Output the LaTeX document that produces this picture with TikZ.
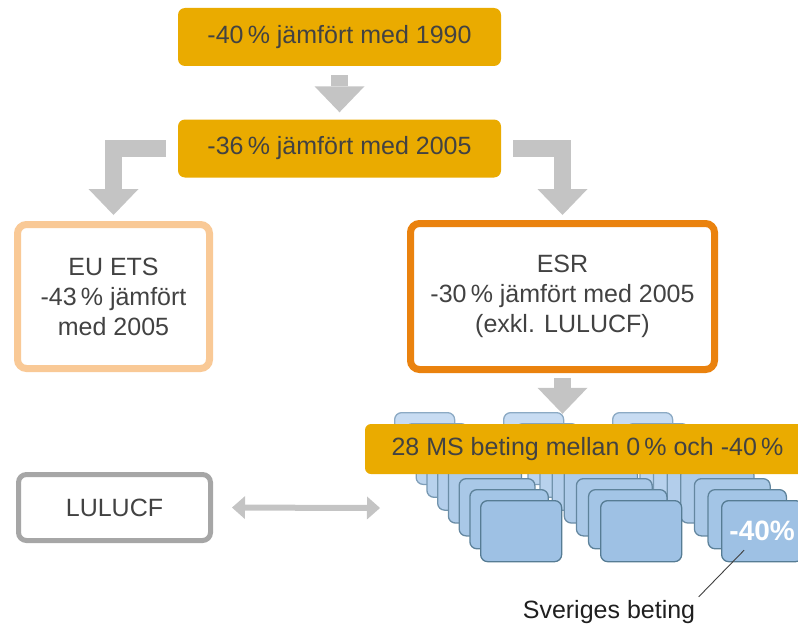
\documentclass[tikz,border=0pt]{standalone}
\usepackage{fontspec}
\setmainfont{Liberation Sans}
\usetikzlibrary{arrows.meta}
\definecolor{gold}{RGB}{234,171,0}
\definecolor{txtgray}{RGB}{66,66,66}
\definecolor{arrowgray}{RGB}{196,196,196}
\definecolor{etsorange}{RGB}{249,201,150}
\definecolor{esrorange}{RGB}{234,130,14}
\definecolor{lugray}{RGB}{166,166,166}
\definecolor{msback}{RGB}{200,220,242}
\definecolor{msfront}{RGB}{158,193,228}
\definecolor{msbackline}{RGB}{140,170,196}
\definecolor{msfrontline}{RGB}{86,124,148}

\begin{document}
\begin{tikzpicture}[x=1pt,y=-1pt,
    font=\fontsize{25}{30}\selectfont,
    target/.style={fill=gold,text=txtgray,rounded corners=7pt,minimum width=323pt,minimum height=58pt},
    sector/.style={draw,fill=white,line width=7pt,rounded corners=9pt,text=txtgray,align=center},
    msbox/.style={line width=1.3pt,rounded corners=7pt,anchor=north west,inner sep=0pt},
    bigarrow/.style={draw=arrowgray,line width=17pt,-{Triangle[width=50pt,length=26pt,line width=0pt]}},
    dblarrow/.style={draw=arrowgray,line width=6pt,
      {Triangle[width=23pt,length=13pt,line width=0pt]}-{Triangle[width=23pt,length=13pt,line width=0pt]}}]
    \useasboundingbox (0,0) rectangle (798,626);
    \clip (0,0) rectangle (798,626);

    % EU-wide targets
    \node[target] (eu90) at (339.5,37) {-40\,\% jämfört med 1990};
    \node[target] (eu05) at (339.5,148.5) {-36\,\% jämfört med 2005};

    % Sectors
    \node[sector,draw=etsorange,minimum width=192pt,minimum height=144pt] (ets) at (113.5,296.5)
        {EU ETS\\-43\,\% jämfört\\med 2005};
    \node[sector,draw=esrorange,minimum width=304pt,minimum height=146pt] (esr) at (562.5,296.5)
        {ESR\\-30\,\% jämfört med 2005\\(exkl. LULUCF)};
    \node[sector,draw=lugray,line width=5pt,rounded corners=8pt,minimum width=192pt,minimum height=66pt]
        (lulucf) at (114.5,507.5) {LULUCF};

    % Member state boxes, back to front
    \foreach \i in {0,...,8}{
      \foreach \s/\bx/\fx in {1/394/480,2/503/600,3/612/721}{
        \pgfmathsetmacro\boxx{\bx+(\fx-\bx)*\i/8}
        \pgfmathsetmacro\boxy{412+11*\i}
        \pgfmathsetmacro\boxw{60+21*\i/8}
        \pgfmathsetmacro\boxh{46+15*\i/8}
        \pgfmathtruncatemacro\mix{100*\i/8}
        \node[msbox,fill=msfront!\mix!msback,draw=msfrontline!\mix!msbackline,
          minimum width=\boxw,minimum height=\boxh] (s\s-\i) at (\boxx,\boxy) {};
      }
    }
    \node[target,minimum width=445pt,minimum height=50pt,rounded corners=6pt] (band) at (587.5,449)
        {28 MS beting mellan 0\,\% och -40\,\%};
    \node[text=white,font=\bfseries\fontsize{28}{30}\selectfont] (sepct) at (s3-8) {-40\%};

    % Arrows
    \draw[bigarrow,shorten <=9pt,shorten >=7pt] (eu90) -- (eu05);
    \draw[bigarrow,shorten <=12pt,shorten >=6pt] (eu05.west) -| (ets.north);
    \draw[bigarrow,shorten <=12pt,shorten >=5pt] (eu05.east) -| (esr.north);
    \draw[bigarrow,shorten <=5pt,shorten >=10pt] (esr.south) -- (esr.south |- band.north);
    \coordinate (ms) at (380,508);
    \draw[dblarrow,shorten <=19pt] (lulucf.east) -- (ms);

    % Sweden
    \node[text=black!88] (sv) at (609,612) {Sveriges beting};
    \draw[black!75,line width=0.9pt] ([shift={(-18,19)}]s3-8.center) -- (sv.north east);
\end{tikzpicture}
\end{document}
